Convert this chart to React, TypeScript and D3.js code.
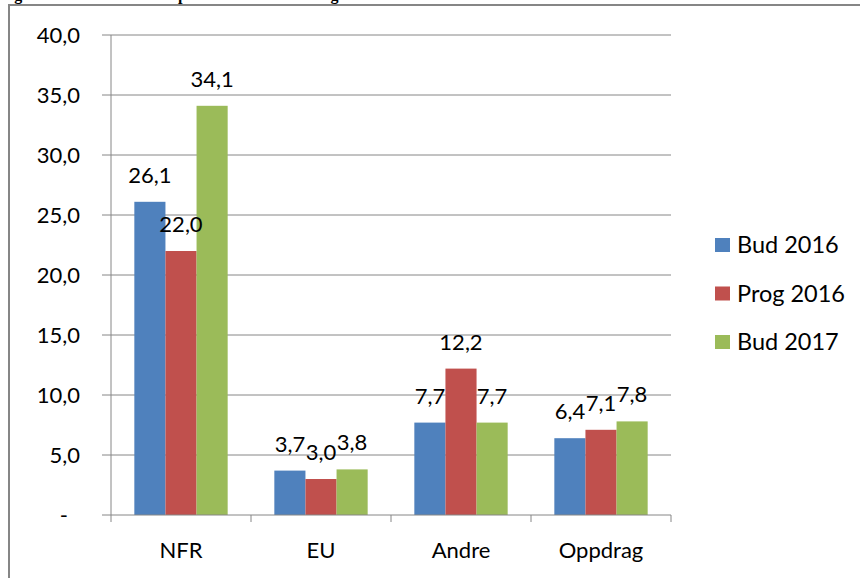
import React from 'react';
import * as d3 from 'd3';

const categories = ['NFR', 'EU', 'Andre', 'Oppdrag'];
const seriesNames = ['Bud 2016', 'Prog 2016', 'Bud 2017'];
const bud2016 = [26.1, 3.7, 7.7, 6.4];
const prog2016 = [22.0, 3.0, 12.2, 7.1];
const bud2017 = [34.1, 3.8, 7.7, 7.8];
const yTicks = [0, 5, 10, 15, 20, 25, 30, 35, 40];
const colors = ['#4F81BD', '#C0504D', '#9BBB59'];

const W = 860;
const H = 578;
const font = 'Lato, "Open Sans", sans-serif';
const grey = '#868686';

const fmt = (v: number) => (v === 0 ? '-' : v.toFixed(1).replace('.', ','));

export default function App() {
  const series = [bud2016, prog2016, bud2017];

  // plot area
  const left = 111;
  const right = 671;
  const top = 35;
  const bottom = 515;

  const x = d3.scaleBand().domain(categories).range([left, right]).paddingInner(0).paddingOuter(0);
  const inner = d3
    .scaleBand()
    .domain(seriesNames)
    .range([0, x.bandwidth()])
    .paddingOuter(0.75)
    .paddingInner(0);
  const y = d3.scaleLinear().domain([0, 40]).range([bottom, top]);

  const boundaries = [...categories.map((c) => x(c) as number), right];

  return (
    <div style={{ position: 'absolute', left: 0, top: 0 }}>
      <svg width={W} height={H} style={{ display: 'block', background: '#fff' }}>
        {/* caption above the frame, cut off by the top edge like in the source */}
        <text
          x={0}
          y={0}
          fontFamily='"Liberation Serif", "DejaVu Serif", serif'
          fontWeight="bold"
          fontSize={16}
          fill="#000"
        >
          Figur 4: Inntekter fordelt på de ulike finansieringskildene
        </text>

        {/* chart frame */}
        <rect x={9} y={5} width={W + 20} height={H + 20} fill="#fff" stroke={grey} strokeWidth={2} />

        {/* gridlines + y ticks */}
        {yTicks.map((t) => (
          <g key={t}>
            <line x1={left - 9} x2={t === 0 ? left : right} y1={y(t)} y2={y(t)} stroke={grey} strokeWidth={1} />
            <text
              x={t === 0 ? 68 : 80}
              y={y(t)}
              dy="0.36em"
              textAnchor="end"
              fontFamily={font}
              fontSize={22}
              fill="#000"
            >
              {fmt(t)}
            </text>
          </g>
        ))}

        {/* bars */}
        {series.map((vals, si) =>
          categories.map((c, ci) => {
            const bx = (x(c) as number) + (inner(seriesNames[si]) as number);
            const by = y(vals[ci]);
            return (
              <rect
                key={`${si}-${ci}`}
                x={bx}
                y={by}
                width={inner.bandwidth()}
                height={y(0) - by}
                fill={colors[si]}
              />
            );
          })
        )}

        {/* axes */}
        <line x1={left} x2={left} y1={top} y2={bottom} stroke={grey} strokeWidth={1} />
        <line x1={left} x2={right} y1={bottom} y2={bottom} stroke={grey} strokeWidth={1} />
        {boundaries.map((b, i) => (
          <line key={i} x1={b} x2={b} y1={bottom} y2={bottom + 7} stroke={grey} strokeWidth={1} />
        ))}

        {/* data labels */}
        {series.map((vals, si) =>
          categories.map((c, ci) => {
            const cx = (x(c) as number) + (inner(seriesNames[si]) as number) + inner.bandwidth() / 2;
            return (
              <text
                key={`l${si}-${ci}`}
                x={cx}
                y={y(vals[ci]) - 19}
                textAnchor="middle"
                fontFamily={font}
                fontSize={22}
                fill="#000"
              >
                {fmt(vals[ci])}
              </text>
            );
          })
        )}

        {/* category labels */}
        {categories.map((c) => (
          <text
            key={c}
            x={(x(c) as number) + x.bandwidth() / 2}
            y={558}
            textAnchor="middle"
            fontFamily={font}
            fontSize={22}
            fill="#000"
          >
            {c}
          </text>
        ))}

        {/* legend */}
        {seriesNames.map((s, i) => (
          <g key={s} transform={`translate(715, ${238 + i * 48.5})`}>
            <rect x={0} y={0} width={15} height={14} fill={colors[i]} />
            <text x={22} y={15} fontFamily={font} fontSize={23.5} fill="#000">
              {s}
            </text>
          </g>
        ))}
      </svg>
    </div>
  );
}
